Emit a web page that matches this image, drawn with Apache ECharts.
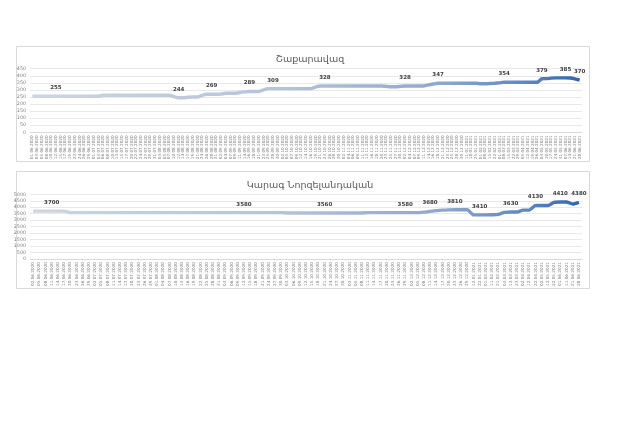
<!DOCTYPE html>
<html><head><meta charset="utf-8">
<script src="https://cdn.jsdelivr.net/npm/echarts@6/dist/echarts.min.js"></script>
<style>html,body{margin:0;padding:0;background:#fff}#c{width:620px;height:438px}</style>
</head><body><div id="c"></div>
<script>
const sugarTitle = 'Շաքարավազ';
const butterTitle = 'Կարագ Նորզելանդական';

const sugarDates = [
'01.06.2020','03.06.2020','05.06.2020','08.06.2020','10.06.2020','12.06.2020','15.06.2020','17.06.2020','19.06.2020','22.06.2020','24.06.2020','26.06.2020','29.06.2020',
'01.07.2020','03.07.2020','06.07.2020','08.07.2020','10.07.2020','13.07.2020','15.07.2020','17.07.2020','20.07.2020','22.07.2020','24.07.2020','27.07.2020','29.07.2020','31.07.2020',
'03.08.2020','05.08.2020','07.08.2020','10.08.2020','12.08.2020','14.08.2020','17.08.2020','19.08.2020','21.08.2020','24.08.2020','26.08.2020','28.08.2020','31.08.2020',
'02.09.2020','04.09.2020','07.09.2020','09.09.2020','11.09.2020','14.09.2020','16.09.2020','18.09.2020','21.09.2020','23.09.2020','25.09.2020','28.09.2020','30.09.2020',
'02.10.2020','05.10.2020','07.10.2020','09.10.2020','12.10.2020','14.10.2020','16.10.2020','19.10.2020','21.10.2020','23.10.2020','26.10.2020','28.10.2020','30.10.2020',
'02.11.2020','04.11.2020','06.11.2020','09.11.2020','11.11.2020','13.11.2020','16.11.2020','18.11.2020','20.11.2020','23.11.2020','25.11.2020','27.11.2020','30.11.2020',
'02.12.2020','04.12.2020','07.12.2020','09.12.2020','11.12.2020','14.12.2020','16.12.2020','18.12.2020','21.12.2020','23.12.2020','25.12.2020','28.12.2020','30.12.2020',
'11.01.2021','18.01.2021','25.01.2021','01.02.2021','08.02.2021','15.02.2021','22.02.2021','01.03.2021','08.03.2021','15.03.2021','22.03.2021','29.03.2021',
'05.04.2021','12.04.2021','19.04.2021','26.04.2021','03.05.2021','10.05.2021','17.05.2021','24.05.2021','31.05.2021','07.06.2021','14.06.2021','21.06.2021','28.06.2021'
];
const sugarValues = [
255,255,255,255,255,255,255,255,255,255,255,255,255,255,255,
262,262,262,262,262,262,262,262,262,262,262,262,262,262,262,
252,244,244,248,250,250,
262,269,269,269,270,
276,276,276,
282,286,289,289,289,
300,309,309,309,309,309,309,309,309,309,309,
320,328,328,328,328,328,328,328,328,328,328,328,328,328,328,
325,322,322,325,
328,328,328,328,328,
336,342,347,347,347,347,347,347,347,347,347,
343,343,345,347,
350,354,354,354,354,354,354,354,354,
379,380,383,385,385,385,384,378,370
];
const sugarLabelIdx = [5,31,38,46,51,62,79,86,100,108,113,116];
const sugarTicks = [0,50,100,150,200,250,300,350,400,450];

const butterDates = [
'02.06.2020','05.06.2020','08.06.2020','11.06.2020','14.06.2020','17.06.2020','20.06.2020','23.06.2020','26.06.2020','29.06.2020',
'02.07.2020','05.07.2020','08.07.2020','11.07.2020','14.07.2020','17.07.2020','20.07.2020','23.07.2020','26.07.2020','29.07.2020',
'01.08.2020','04.08.2020','07.08.2020','10.08.2020','13.08.2020','16.08.2020','19.08.2020','22.08.2020','25.08.2020','28.08.2020','31.08.2020',
'03.09.2020','06.09.2020','09.09.2020','12.09.2020','15.09.2020','18.09.2020','21.09.2020','24.09.2020','27.09.2020','30.09.2020',
'03.10.2020','06.10.2020','09.10.2020','12.10.2020','15.10.2020','18.10.2020','21.10.2020','24.10.2020','27.10.2020','30.10.2020',
'02.11.2020','05.11.2020','08.11.2020','11.11.2020','14.11.2020','17.11.2020','20.11.2020','23.11.2020','26.11.2020','29.11.2020',
'02.12.2020','05.12.2020','08.12.2020','11.12.2020','14.12.2020','17.12.2020','20.12.2020','23.12.2020','26.12.2020','29.12.2020',
'12.01.2021','22.01.2021','01.02.2021','11.02.2021','21.02.2021','03.03.2021','13.03.2021','23.03.2021','02.04.2021','12.04.2021',
'22.04.2021','02.05.2021','12.05.2021','22.05.2021','01.06.2021','11.06.2021','21.06.2021','28.06.2021'
];
const butterValues = [
3700,3700,3700,3700,3700,3700,
3580,3580,3580,3580,3580,3580,3580,3580,3580,3580,3580,3580,3580,3580,3580,3580,3580,3580,3580,3580,3580,3580,3580,3580,3580,3580,3580,3580,3580,3580,3580,3580,3580,3580,3580,
3560,3560,3560,3560,3560,3560,3560,3560,3560,3560,3560,3560,3560,
3580,3580,3580,3580,3580,3580,3580,3580,3580,
3620,3680,3740,3780,3800,3810,3810,3810,
3410,3410,3410,3420,3450,
3600,3630,3630,
3780,3780,
4130,4130,4130,
4380,4410,4410,
4250,4380
];
const butterLabelIdx = [3,34,47,60,64,68,72,77,81,85,88];
const butterTicks = [0,500,1000,1500,2000,2500,3000,3500,4000,4500,5000];

const FONT = 'DejaVu Sans';
function mkData(vals, idx){
  return vals.map((v,i)=> idx.indexOf(i) >= 0 ? {value:v, label:{show:true}} : v);
}
function grad(){
  return new echarts.graphic.LinearGradient(0,0,1,0,[
    {offset:0,color:'#cdd5e1'},{offset:0.45,color:'#b6c3da'},
    {offset:0.75,color:'#8ea6cd'},{offset:0.9,color:'#5d87c2'},{offset:1,color:'#2f64ab'}]);
}
function xAx(gi, dates){
  return {type:'category', gridIndex:gi, data:dates, boundaryGap:true,
    axisLine:{lineStyle:{color:'#d9d9d9',width:1}}, axisTick:{show:false},
    axisLabel:{interval:0, rotate:90, fontSize:4.2, color:'#7f7f7f', fontFamily:FONT, margin:3}};
}
function yAx(gi, ticks){
  return {type:'value', gridIndex:gi, min:ticks[0], max:ticks[ticks.length-1], interval:ticks[1]-ticks[0],
    axisLine:{show:false}, axisTick:{show:false},
    splitLine:{lineStyle:{color:'#e3e3e3',width:0.8}},
    axisLabel:{fontSize:4.8, color:'#7f7f7f', fontFamily:FONT, margin:4, formatter:(v)=>String(v)}};
}
function ser(xi, vals, idx){
  return {type:'line', xAxisIndex:xi, yAxisIndex:xi, data:mkData(vals, idx),
    showSymbol:true, showAllSymbol:true, symbol:'circle', symbolSize:1,
    itemStyle:{color:'rgba(0,0,0,0)', borderWidth:0},
    smooth:0.2, lineStyle:{width:3.4, color:grad()},
    label:{show:false, position:'top', distance:5, fontSize:5.5, fontWeight:'bold', color:'#404040', fontFamily:FONT, opacity:1},
    labelLayout:{hideOverlap:false},
    animation:false};
}
const chart = echarts.init(document.getElementById('c'), null, {renderer:'canvas'});
chart.setOption({
  backgroundColor:'#ffffff',
  animation:false,
  title:[
    {text:sugarTitle, left:'center', top:50, textStyle:{fontSize:9.5, fontWeight:'normal', color:'#595959', fontFamily:FONT}},
    {text:butterTitle, left:'center', top:176, textStyle:{fontSize:9.5, fontWeight:'normal', color:'#595959', fontFamily:FONT}}
  ],
  graphic:[
    {type:'rect', shape:{x:16.5,y:46.5,width:573,height:115}, style:{fill:'none', stroke:'#d9d9d9', lineWidth:1}, silent:true, z:-1},
    {type:'rect', shape:{x:16.5,y:171.5,width:573,height:117}, style:{fill:'none', stroke:'#d9d9d9', lineWidth:1}, silent:true, z:-1}
  ],
  grid:[
    {left:30, right:38, top:68.7, height:63.6},
    {left:30, right:38, top:194.3, height:64.7}
  ],
  xAxis:[xAx(0, sugarDates), xAx(1, butterDates)],
  yAxis:[yAx(0, sugarTicks), yAx(1, butterTicks)],
  series:[ser(0, sugarValues, sugarLabelIdx), ser(1, butterValues, butterLabelIdx)]
});
</script></body></html>
